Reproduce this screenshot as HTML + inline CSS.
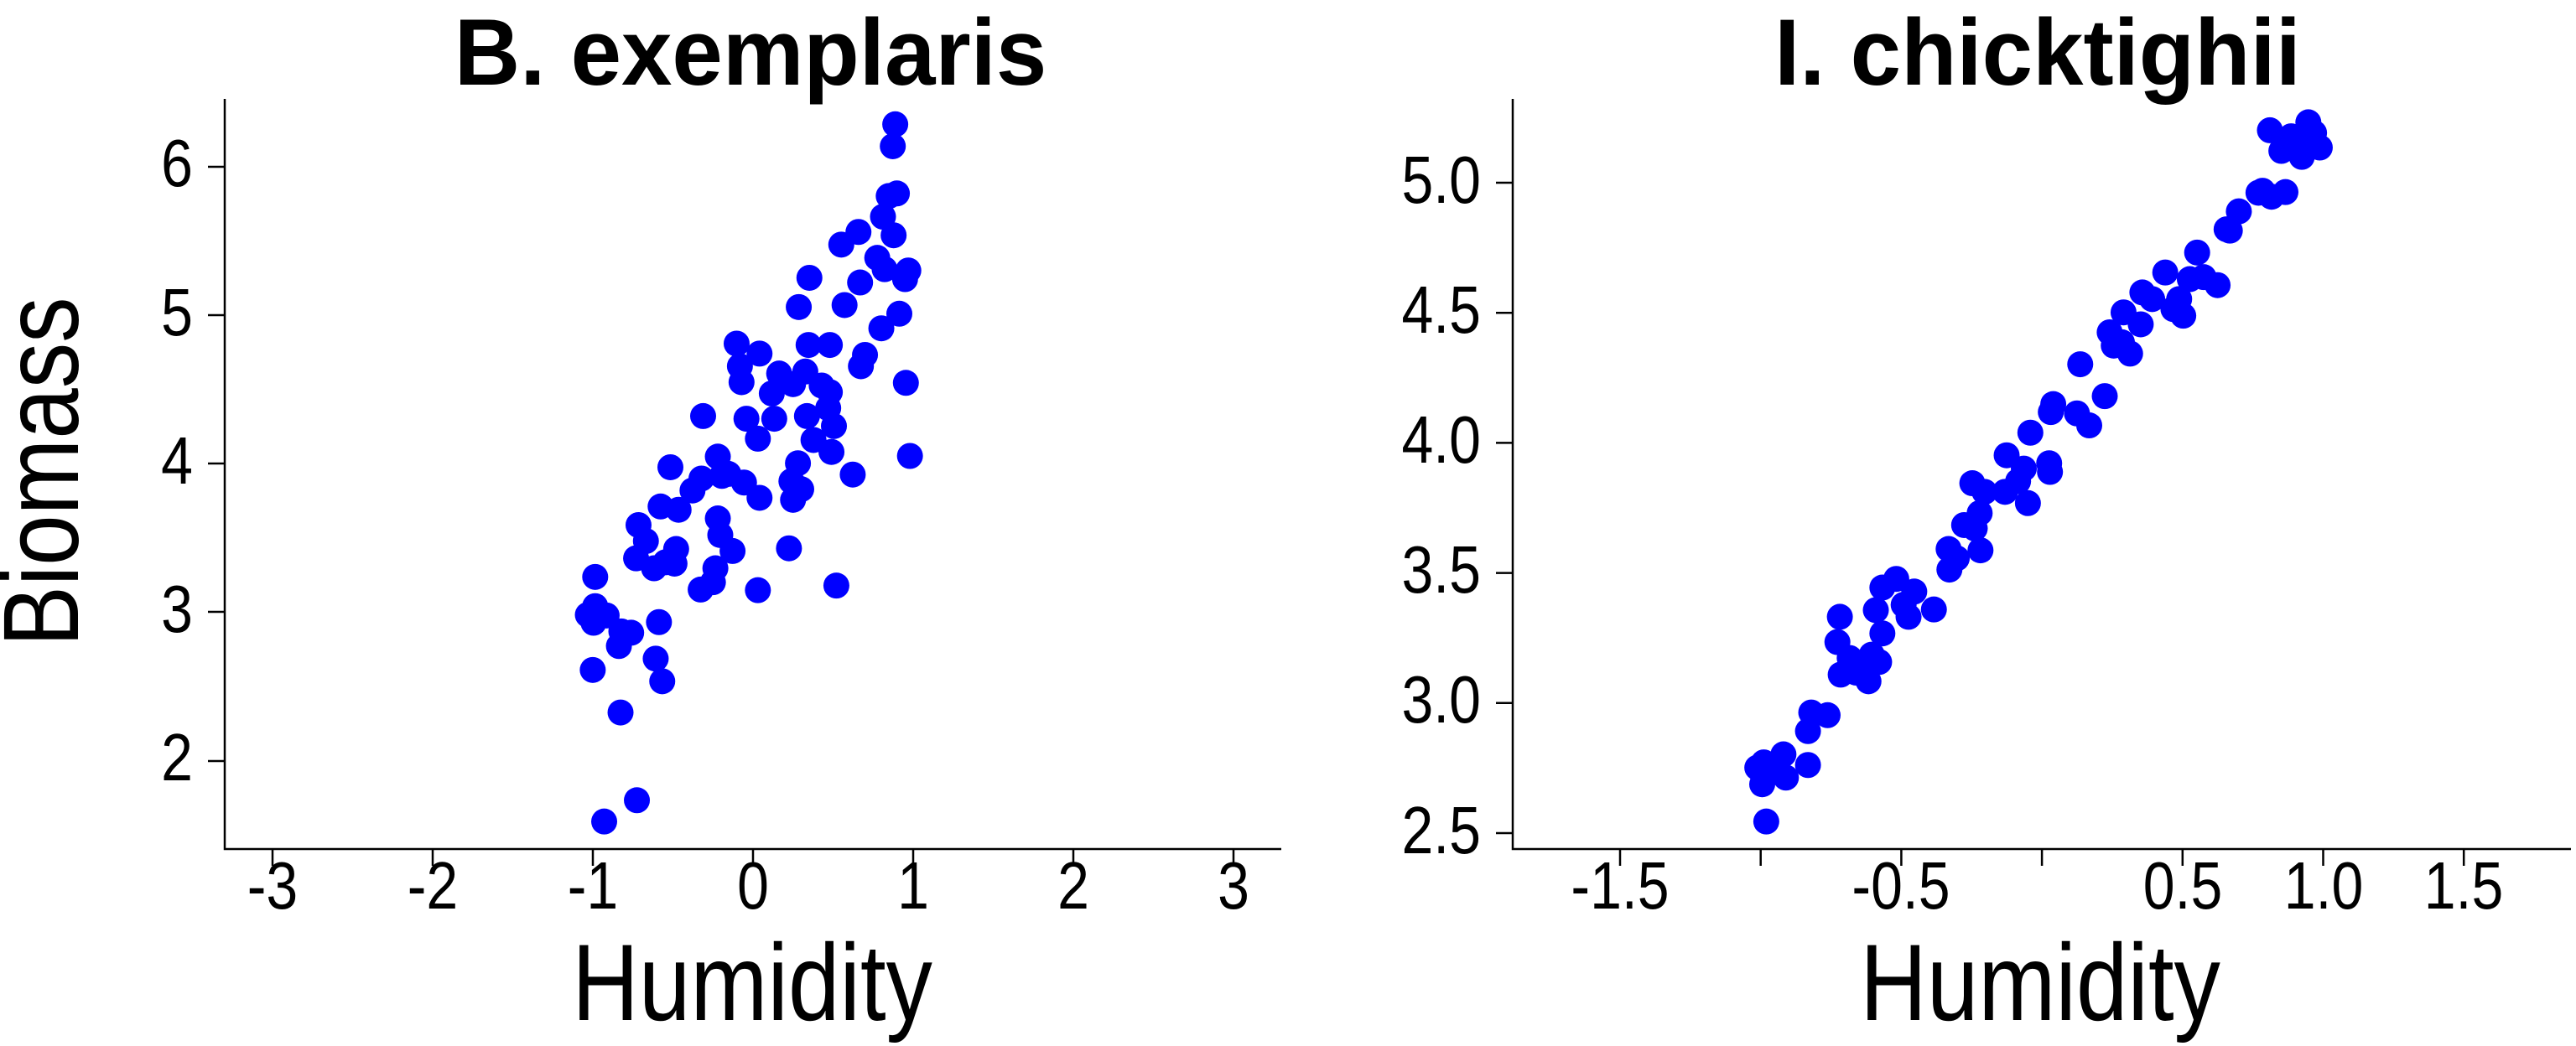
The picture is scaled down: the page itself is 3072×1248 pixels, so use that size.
<!DOCTYPE html>
<html><head><meta charset="utf-8"><style>
html,body{margin:0;padding:0;background:#fff;}
svg{display:block;}
text{font-family:"Liberation Sans",sans-serif;fill:#000;}
</style></head><body>
<svg id="s" width="3072" height="1248" viewBox="0 0 3072 1248" xmlns="http://www.w3.org/2000/svg">
<g stroke="#000" stroke-width="2.5" fill="none">
<path d="M268,118 V1013 H1528"/>
<path d="M1804,118 V1013 H3066"/>
</g>
<g id="ticks" stroke="#000" stroke-width="2.5"></g>
<g id="labs"></g>
<g id="pts" fill="#0000ff"></g>
</svg>
<script>
var NS="http://www.w3.org/2000/svg";
function T(x,y,s,fs,anchor,sx,bold,rot){var e=document.createElementNS(NS,'text');e.textContent=s;e.setAttribute('font-size',fs);e.setAttribute('text-anchor',anchor);if(bold)e.setAttribute('font-weight','bold');e.setAttribute('transform','translate('+x+','+y+')'+(rot?' rotate(-90)':'')+' scale('+sx+',1)');document.getElementById('labs').appendChild(e);}
[[325,'-3'],[516,'-2'],[707,'-1'],[898,'0'],[1089,'1'],[1280,'2'],[1471,'3'],[1932,'-1.5'],[2267,'-0.5'],[2603,'0.5'],[2771,'1.0'],[2938,'1.5']].forEach(function(a){T(a[0],1084,a[1],80,'middle',0.85);});
[[222,'6'],[400,'5'],[577,'4'],[754,'3'],[931,'2']].forEach(function(a){T(230,a[0],a[1],80,'end',0.85);});
[[242,'5.0'],[397,'4.5'],[552,'4.0'],[707,'3.5'],[862,'3.0'],[1018,'2.5']].forEach(function(a){T(1766,a[0],a[1],80,'end',0.85);});
T(895,101,'B. exemplaris',112,'middle',0.97,true);
T(2430,101,'I. chicktighii',112,'middle',0.97,true);
T(897,1217,'Humidity',130,'middle',0.85);
T(2433,1217,'Humidity',130,'middle',0.85);
T(93,563,'Biomass',128,'middle',0.85,false,true);
var L=[[1095,187],[1092,220],[1087,295],[1097,291],[1080,326],[1093,354],[1050,349],[1029,368],[1073,388],[1082,405],[1111,407],[1107,420],[990,418],[1052,425],[977,462],[1033,459],[1100,472],[1078,494],[901,517],[929,532],[989,519],[1015,519],[1058,534],[1053,551],[905,551],[907,575],[953,562],[970,578],[985,559],[1005,580],[1015,590],[944,592],[1108,576],[860,626],[913,630],[947,630],[987,626],[1013,614],[927,660],[995,662],[1020,641],[1017,680],[1113,686],[878,687],[976,697],[820,703],[858,720],[891,713],[910,726],[883,716],[847,738],[830,767],[808,762],[929,749],[968,724],[980,736],[970,752],[1043,714],[878,780],[781,790],[790,814],[881,805],[896,829],[965,825],[827,826],[778,840],[800,855],[825,848],[814,846],[875,855],[872,876],[857,887],[927,888],[1023,881],[728,868],[728,912],[742,926],[726,937],[760,950],[772,952],[806,936],[757,972],[725,1008],[802,991],[810,1025],[759,1072],[779,1204],[739,1236],[719,925]];
var R=[[1201,196],[1248,184],[1255,200],[1227,205],[1215,227],[1262,222],[1240,236],[1237,212],[1192,287],[1203,296],[1220,289],[1187,290],[1163,318],[1152,347],[1148,345],[1112,380],[1073,410],[1120,417],[1137,429],[1103,420],[1045,440],[1090,450],[1057,450],[1083,465],[1095,475],[1022,470],[1043,488],[1005,500],[1010,520],[1030,532],[1020,515],[969,548],[999,596],[936,608],[933,620],[965,622],[980,640],[908,651],[931,697],[932,710],[905,757],[879,685],[900,705],[893,724],[877,740],[837,727],[852,740],[846,772],[827,790],[840,795],[847,828],[808,826],[818,840],[809,857],[744,871],[727,884],[766,890],[759,928],[790,917],[753,910],[719,918],[727,953],[675,928],[672,966],[687,990],[714,985],[723,996],[695,1012],[710,1025],[676,1015],[640,1072],[660,1076],[636,1100],[636,1151],[606,1135],[609,1170],[582,1147],[574,1155],[580,1180],[585,1236],[595,1160]];
var g=document.getElementById('pts');
function add(p,ox){p.forEach(function(a){var c=document.createElementNS(NS,'circle');c.setAttribute('cx',a[0]*0.975+ox);c.setAttribute('cy',a[1]*0.793);c.setAttribute('r',15.5);g.appendChild(c);});}
add(L,0);add(R,1536);
var t=document.getElementById('ticks'),d='';
[325,516,707,898,1089,1280,1471].forEach(function(x){d+='M'+x+',1013v20';});
[199,376,553,730,908].forEach(function(y){d+='M268,'+y+'h-20';});
for(var i=0;i<7;i++){d+='M'+(1932+i*167.7)+',1013v20';}
for(var j=0;j<6;j++){d+='M1804,'+(218+j*155.2)+'h-20';}
var p=document.createElementNS(NS,'path');p.setAttribute('d',d);t.appendChild(p);
</script>
</body></html>
